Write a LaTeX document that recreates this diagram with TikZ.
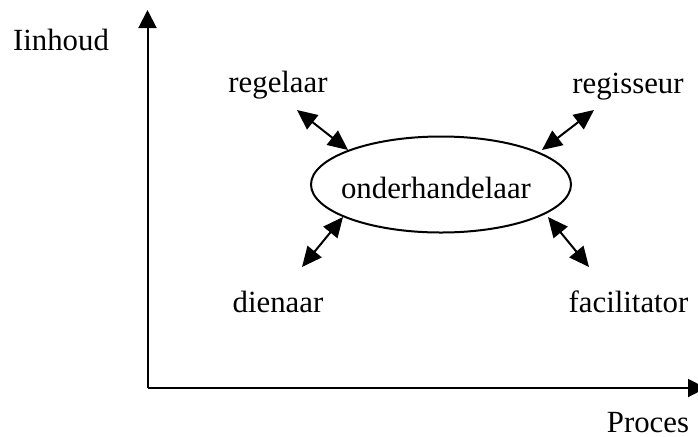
\documentclass[tikz,border=0pt]{standalone}
\usepackage{fontspec}
\setmainfont{Liberation Serif}
\usetikzlibrary{arrows.meta,shapes.geometric}
\tikzset{
  lbl/.style={font=\fontsize{15.4}{18}\selectfont, inner sep=0pt, anchor=base},
  axis/.style={line width=1pt, -{Triangle[length=9pt,width=9pt]}},
  dbl/.style={line width=1pt, {Triangle[length=10pt,width=9pt]}-{Triangle[length=10pt,width=9pt]}},
}
\begin{document}
\begin{tikzpicture}[x=0.5pt,y=-0.5pt]
\useasboundingbox (0,0) rectangle (698,436);
\coordinate (O) at (147.5,388);
\coordinate (Ytop) at (147.5,10);
\coordinate (Xend) at (706,388);
\draw[axis] (O) -- (Ytop);
\draw[axis] (O) -- (Xend);
\node[lbl] (inhoud) at (61,50) {Iinhoud};
\node[lbl] (proces) at (648,432) {Proces};
\node[draw, line width=1pt, ellipse, minimum width=130pt, minimum height=48pt, inner sep=0pt] (ell) at (441,184.5) {};
\node[lbl] (ond) at (436,198) {onderhandelaar};
\node[lbl] (reg) at (278,92) {regelaar};
\node[lbl] (regi) at (628,93) {regisseur};
\node[lbl] (dien) at (278,312) {dienaar};
\node[lbl] (fac) at (628.5,312) {facilitator};
\coordinate (a1) at (297,110); \coordinate (b1) at (348,150);
\coordinate (a2) at (594,110); \coordinate (b2) at (542,150);
\coordinate (a3) at (302,267); \coordinate (b3) at (343,217);
\coordinate (a4) at (589,267); \coordinate (b4) at (548,217);
\draw[dbl] (a1) -- (b1);
\draw[dbl] (a2) -- (b2);
\draw[dbl] (a3) -- (b3);
\draw[dbl] (a4) -- (b4);
\end{tikzpicture}
\end{document}
